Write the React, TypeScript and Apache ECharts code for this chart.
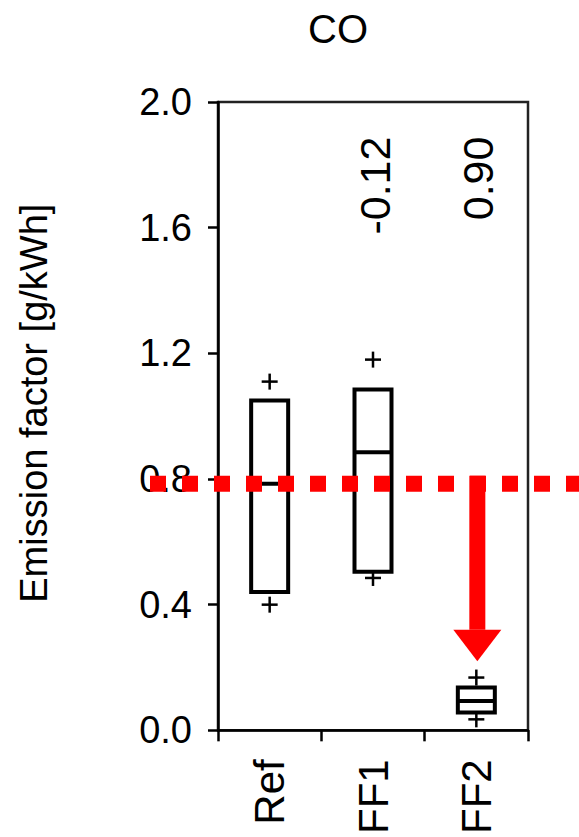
import React, { useEffect, useRef } from "react";
import * as echarts from "echarts";

const categories = ["Ref", "FF1", "FF2"];
const q1 = [0.44, 0.505, 0.057];
const median = [0.785, 0.885, 0.093];
const q3 = [1.05, 1.085, 0.136];
const lowOutliers = [0.4, 0.485, 0.035];
const highOutliers = [1.11, 1.18, 0.168];
const changeLabels = ["", "-0.12", "0.90"];
const threshold = 0.785;
const arrowHeadBase = 0.32;
const arrowTip = 0.22;
const annotationEnd = 1.89;
const yMin = 0;
const yMax = 2;
const yInterval = 0.4;

const FONT = "'Liberation Sans', Arial, Helvetica, sans-serif";
const BOX_W = 37;
const PLUS_HALF = 8;

export default function App() {
  const ref = useRef<HTMLDivElement>(null);
  useEffect(() => {
    const chart = echarts.init(ref.current!, null, { renderer: "svg" });
    const option: any = {
      animation: false,
      backgroundColor: "#fff",
      grid: {
        left: 218,
        right: 51,
        top: 102,
        bottom: 105,
        show: true,
        borderColor: "#222",
        borderWidth: 2.5,
        backgroundColor: "transparent",
      },
      xAxis: {
        type: "category",
        data: categories,
        boundaryGap: true,
        axisLine: { show: true, lineStyle: { color: "#000", width: 2.5 } },
        axisTick: { show: true, length: 11, lineStyle: { color: "#000", width: 2.5 } },
        axisLabel: {
          rotate: 90,
          margin: 29,
          fontSize: 42,
          color: "#000",
          fontFamily: FONT,
        },
        splitLine: { show: false },
      },
      yAxis: {
        type: "value",
        min: yMin,
        max: yMax,
        interval: yInterval,
        axisLine: { show: true, lineStyle: { color: "#000", width: 2.5 } },
        axisTick: { show: true, length: 10, lineStyle: { color: "#000", width: 2.5 } },
        axisLabel: {
          margin: 26,
          fontSize: 38,
          color: "#000",
          fontFamily: FONT,
          formatter: (v: number) => v.toFixed(1),
        },
        splitLine: { show: false },
      },
      series: [
        {
          type: "custom",
          z: 3,
          data: categories.map((_, i) => [i, q1[i], median[i], q3[i], lowOutliers[i], highOutliers[i]]),
          encode: { x: 0, y: [1, 2, 3, 4, 5] },
          renderItem: (params: any, api: any) => {
            const c = api.value(0);
            const pQ1 = api.coord([c, api.value(1)]);
            const pMed = api.coord([c, api.value(2)]);
            const pQ3 = api.coord([c, api.value(3)]);
            const pLo = api.coord([c, api.value(4)]);
            const pHi = api.coord([c, api.value(5)]);
            const x = pQ1[0];
            const plus = (p: number[]) => [
              {
                type: "line",
                shape: { x1: p[0] - PLUS_HALF, y1: p[1], x2: p[0] + PLUS_HALF, y2: p[1] },
                style: { stroke: "#000", lineWidth: 2.5 },
              },
              {
                type: "line",
                shape: { x1: p[0], y1: p[1] - PLUS_HALF, x2: p[0], y2: p[1] + PLUS_HALF },
                style: { stroke: "#000", lineWidth: 2.5 },
              },
            ];
            return {
              type: "group",
              children: [
                ...plus(pLo),
                ...plus(pHi),
                {
                  type: "rect",
                  shape: { x: x - BOX_W / 2, y: pQ3[1], width: BOX_W, height: pQ1[1] - pQ3[1] },
                  style: { fill: "#fff", stroke: "#000", lineWidth: 4 },
                },
                {
                  type: "line",
                  shape: { x1: x - BOX_W / 2, y1: pMed[1], x2: x + BOX_W / 2, y2: pMed[1] },
                  style: { stroke: "#000", lineWidth: 4 },
                },
              ],
            };
          },
        },
      ],
    };
    chart.setOption(option);

    const yT = chart.convertToPixel({ yAxisIndex: 0 }, threshold) as number;
    const yHead = chart.convertToPixel({ yAxisIndex: 0 }, arrowHeadBase) as number;
    const yTip = chart.convertToPixel({ yAxisIndex: 0 }, arrowTip) as number;
    const yAnn = chart.convertToPixel({ yAxisIndex: 0 }, annotationEnd) as number;
    const xF2 = chart.convertToPixel({ xAxisIndex: 0 }, 2) as number;
    const yTop = chart.convertToPixel({ yAxisIndex: 0 }, yMax) as number;
    const yBot = chart.convertToPixel({ yAxisIndex: 0 }, yMin) as number;

    const graphics: any[] = [
      {
        type: "text",
        x: 338,
        y: 29,
        z: 100,
        style: {
          text: "CO",
          fontSize: 40,
          fontFamily: FONT,
          fill: "#000",
          textAlign: "center",
          textVerticalAlign: "middle",
        },
      },
      {
        type: "text",
        x: 34,
        y: (yTop + yBot) / 2 - 13,
        rotation: Math.PI / 2,
        z: 100,
        style: {
          text: "Emission factor [g/kWh]",
          fontSize: 38,
          fontFamily: FONT,
          fill: "#000",
          textAlign: "center",
          textVerticalAlign: "middle",
        },
      },
      {
        type: "line",
        z: 100,
        shape: { x1: 150, y1: yT, x2: 579, y2: yT },
        style: { stroke: "#ff0000", lineWidth: 16, lineDash: [16, 16], lineCap: "butt" },
      },
      {
        type: "rect",
        z: 100,
        shape: { x: xF2 - 7, y: yT - 8, width: 16, height: yHead - (yT - 8) },
        style: { fill: "#ff0000" },
      },
      {
        type: "polygon",
        z: 100,
        shape: {
          points: [
            [xF2 - 23, yHead],
            [xF2 + 25, yHead],
            [xF2 + 1, yTip],
          ],
        },
        style: { fill: "#ff0000" },
      },
    ];
    changeLabels.forEach((t, i) => {
      if (!t) return;
      const x = chart.convertToPixel({ xAxisIndex: 0 }, i) as number;
      graphics.push({
        type: "text",
        x: x + 2,
        y: yAnn,
        rotation: Math.PI / 2,
        z: 100,
        style: {
          text: t,
          fontSize: 43,
          fontFamily: FONT,
          fill: "#000",
          textAlign: "right",
          textVerticalAlign: "middle",
        },
      });
    });
    chart.setOption({ graphic: graphics });
    return () => chart.dispose();
  }, []);
  return (
    <div
      ref={ref}
      style={{ position: "fixed", left: 0, top: 0, width: 579, height: 837, background: "#fff" }}
    />
  );
}
